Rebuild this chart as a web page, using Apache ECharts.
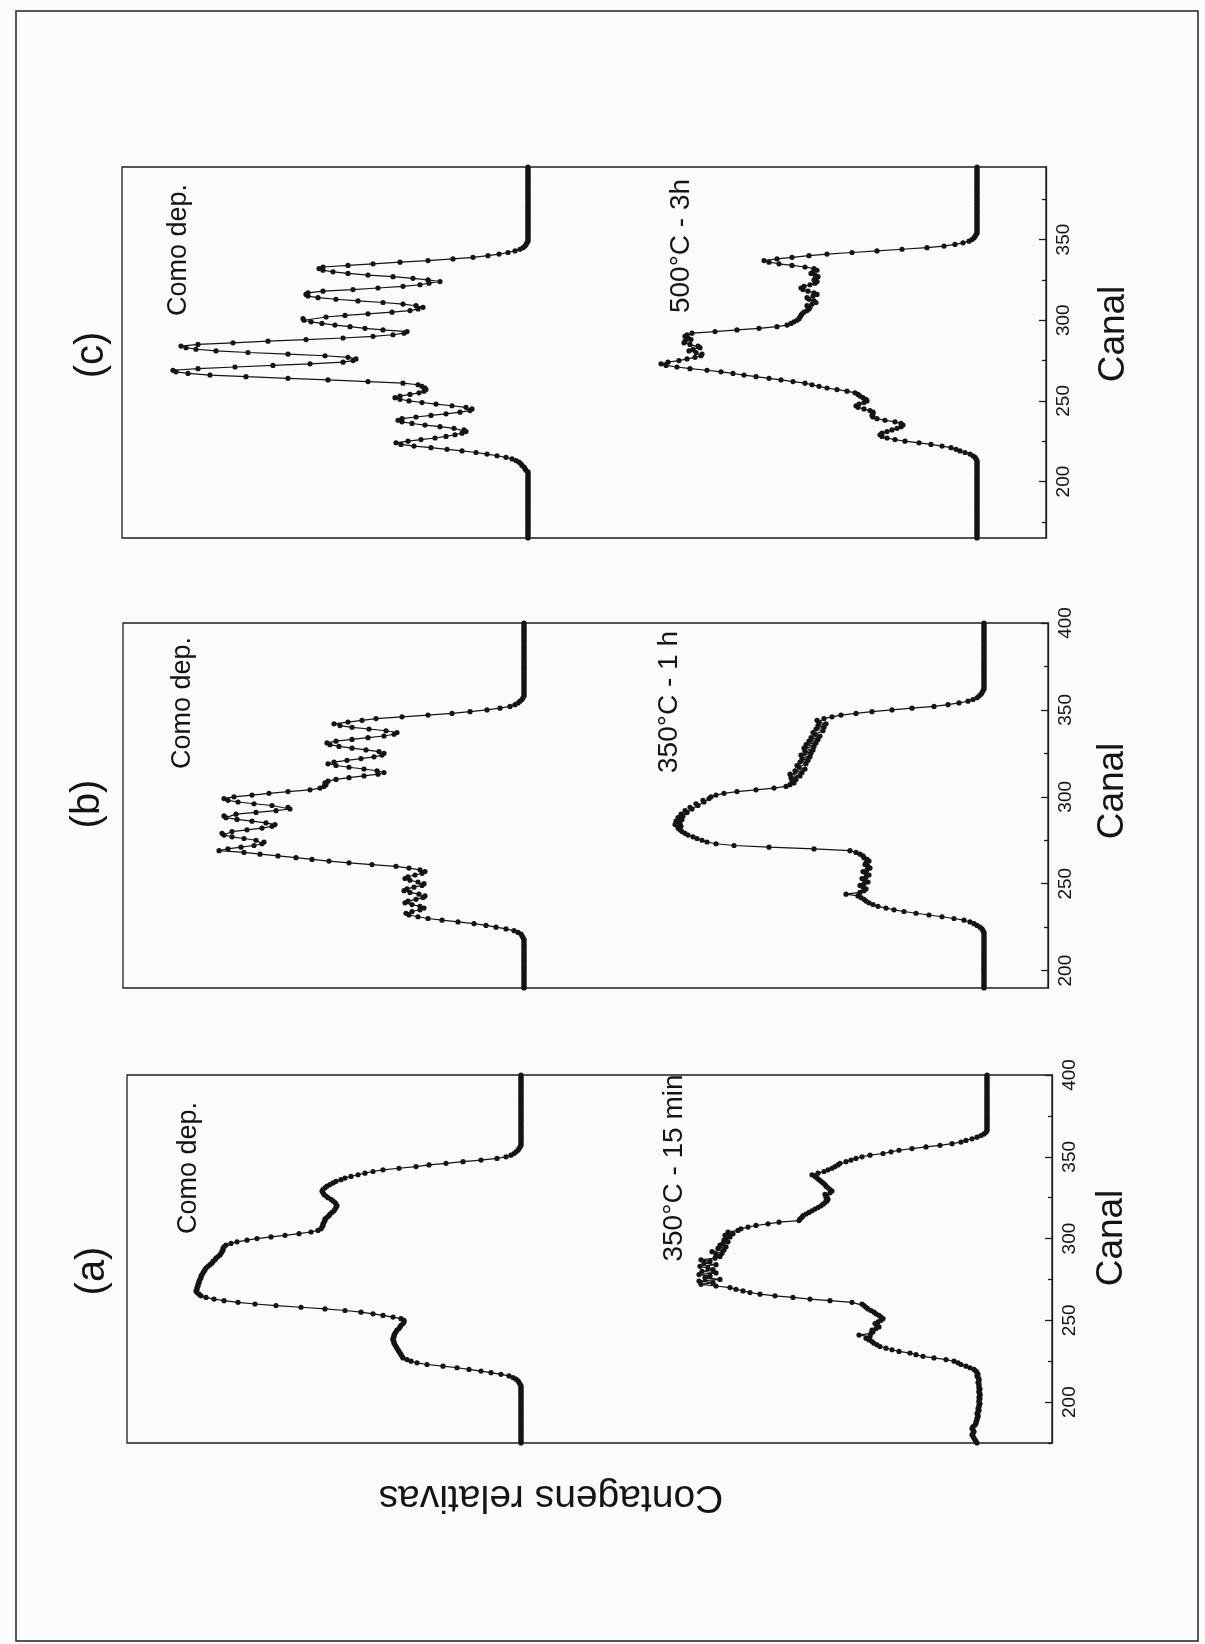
<!DOCTYPE html>
<html>
<head>
<meta charset="utf-8">
<script src="https://cdn.jsdelivr.net/npm/echarts@6.0.0/dist/echarts.min.js"></script>
<style>
html,body{margin:0;padding:0;background:#fbfbfb;}
#chart{width:1205px;height:1644px;}
</style>
</head>
<body>
<div id="chart"></div>
<script>
// ---------------- DATA (relative counts per channel) ----------------
// Canal axis tick values
const canalMajorTicks = [200, 250, 300, 350, 400];
const canalMinorTicks = [175, 225, 275, 325, 375];

// First channel of each spectrum (one value per channel afterwards)
const canalStartA = 175;
const canalStartB = 190;
const canalStartC = 165;

// Vertical stacking offsets of the two spectra in each panel (counts units)
const stackOffsetA = [531, 74];
const stackOffsetB = [524, 64];
const stackOffsetC = [518, 69];

// Panel labels / texts
const panelLetters = ['(a)', '(b)', '(c)'];
const spectrumNamesA = ['Como dep.', '350°C - 15 min'];
const spectrumNamesB = ['Como dep.', '350°C - 1 h'];
const spectrumNamesC = ['Como dep.', '500°C - 3h'];
const xAxisTitle = 'Canal';
const yAxisTitle = 'Contagens relativas';

// (a) Como dep.  channels 175..400
const countsA_asDep = [
 0,0,0,0,0,
 0,0,0,0,0,0,0,0,0,0,
 0,0,0,0,0,0,0,0,0,0,
 0,0,0,0,0,0,0,0,0,0,
 0,1,2,3,5,8,12,20,30,40,
 52,64,78,94,104,110,114,118,119,120,
 121,122,123,124,125,126,127,127,128,128,
 127,127,126,125,124,122,121,120,118,117,
 117,120,128,138,148,160,176,196,220,245,
 266,283,297,307,315,320,322,324,325,324,
 324,323,323,322,322,321,320,320,319,318,
 317,316,315,313,311,309,308,306,305,303,
 301,300,299,298,298,297,295,290,284,274,
 264,250,236,222,210,203,200,199,198,198,
 197,196,196,194,192,191,189,187,186,185,
 184,185,186,188,190,193,195,197,198,199,
 198,196,194,191,188,185,180,176,170,163,
 156,148,138,122,105,92,75,58,40,24,
 15,10,7,5,3,2,1,0,0,0,
 0,0,0,0,0,0,0,0,0,0,
 0,0,0,0,0,0,0,0,0,0,
 0,0,0,0,0,0,0,0,0,0,
 0,0,0,0,0,0,0,0,0,0,
 0
];
// (a) 350°C - 15 min  channels 175..400
const countsA_350C15min = [
 1,2,3,4,5,
 6,5,4,5,6,5,3,2,2,1,
 1,0,0,1,0,-1,0,-1,-1,-2,
 -1,-1,-2,-1,-2,-2,-1,-1,-2,-1,
 -1,-1,0,-1,-1,0,1,0,1,2,
 4,8,12,17,20,24,32,44,55,62,
 68,79,86,92,98,101,104,106,109,112,
 108,119,107,105,106,102,99,101,103,100,
 97,95,97,99,102,104,107,110,112,114,
 116,126,148,168,185,203,218,228,235,242,
 248,262,277,265,279,258,273,268,279,262,
 276,265,270,278,262,274,268,277,263,258,
 262,256,266,254,260,252,258,255,250,254,
 252,248,253,245,250,240,237,230,222,210,
 199,179,178,176,175,172,169,166,163,160,
 157,155,153,151,150,152,151,153,148,146,
 148,150,152,153,155,157,159,161,163,166,
 160,154,150,146,143,140,138,132,127,122,
 116,108,95,87,79,66,52,38,26,17,
 12,6,1,-3,-6,-8,-9,-9,-9,-9,
 -9,-9,-9,-9,-9,-9,-9,-9,-9,-9,
 -9,-9,-9,-9,-9,-9,-9,-9,-9,-9,
 -9,-9,-9,-9,-9,-9,-9,-9,-9,-9,
 -9
];

// (b) Como dep.  channels 190..400
const countsB_asDep = [
 0,0,0,0,0,0,0,0,0,0,
 0,0,0,0,0,0,0,0,0,0,
 0,0,0,0,0,0,0,0,0,1,
 2,3,6,10,18,28,38,50,66,82,
 96,106,115,118,112,104,100,104,112,119,
 116,108,101,99,105,114,120,117,110,102,
 100,106,114,119,116,109,102,99,104,115,
 128,152,175,195,212,228,246,264,280,305,
 296,283,270,262,260,268,280,292,300,302,
 292,277,262,252,249,258,272,287,298,300,
 288,268,248,234,236,252,270,286,296,300,
 290,272,255,236,214,204,200,198,199,196,
 188,175,160,146,140,147,160,175,188,196,
 190,177,163,150,142,140,145,158,172,185,
 194,197,188,172,156,140,130,127,138,155,
 172,184,190,176,162,148,122,96,72,54,
 37,24,14,9,6,4,2,1,0,0,
 0,0,0,0,0,0,0,0,0,0,
 0,0,0,0,0,0,0,0,0,0,
 0,0,0,0,0,0,0,0,0,0,
 0,0,0,0,0,0,0,0,0,0,
 0
];
// (b) 350°C - 1 h  channels 190..400
const countsB_350C1h = [
 0,0,0,0,0,0,0,0,0,0,
 0,0,0,0,0,0,0,0,0,0,
 0,0,0,0,0,0,0,0,0,0,
 0,0,0,1,2,4,7,10,14,20,
 30,42,55,68,80,90,98,106,111,115,
 118,120,123,126,138,124,120,118,121,124,
 120,116,119,122,118,115,118,121,117,114,
 116,119,118,115,117,120,121,124,128,134,
 170,215,250,268,277,282,287,291,296,299,
 302,304,306,303,309,304,308,302,306,301,
 303,297,299,292,294,286,288,280,281,275,
 273,268,260,247,228,210,198,194,190,192,
 188,193,184,194,182,189,179,185,187,178,
 184,176,182,174,183,173,179,171,180,170,
 178,168,175,166,173,164,169,171,161,168,
 160,166,158,165,167,160,152,143,128,112,
 92,72,50,36,25,16,11,7,5,3,
 2,1,0,0,0,0,0,0,0,0,
 0,0,0,0,0,0,0,0,0,0,
 0,0,0,0,0,0,0,0,0,0,
 0,0,0,0,0,0,0,0,0,0,
 0
];

// (c) Como dep.  channels 165..395
const countsC_asDep = [
 0,0,0,0,0,
 0,0,0,0,0,0,0,0,0,0,
 0,0,0,0,0,0,0,0,0,0,
 0,0,0,0,0,0,0,0,0,0,
 0,0,0,0,0,0,0,2,3,4,
 6,7,9,12,16,22,31,41,52,66,
 81,97,114,127,132,120,107,93,82,73,
 66,62,64,74,88,103,116,126,130,126,
 112,97,82,68,58,56,62,76,92,106,
 119,128,133,128,118,109,104,102,103,106,
 110,125,160,200,240,282,318,340,352,355,
 330,293,255,218,185,175,172,180,203,240,
 280,312,332,342,347,330,295,260,222,185,
 155,135,124,121,145,163,178,193,206,217,
 224,225,202,183,160,136,118,110,105,112,
 125,145,170,192,210,220,222,220,205,175,
 150,125,108,99,88,100,115,135,160,180,
 195,205,209,205,180,155,128,100,75,55,
 40,29,20,13,8,5,3,2,1,0,
 0,0,0,0,0,0,0,0,0,0,
 0,0,0,0,0,0,0,0,0,0,
 0,0,0,0,0,0,0,0,0,0,
 0,0,0,0,0,0,0,0,0,0,
 0,0,0,0,0,0
];
// (c) 500°C - 3h  channels 165..395
const countsC_500C3h = [
 0,0,0,0,0,
 0,0,0,0,0,0,0,0,0,0,
 0,0,0,0,0,0,0,0,0,0,
 0,0,0,0,0,0,0,0,0,0,
 0,0,0,0,0,0,0,0,0,0,
 0,0,0,0,1,2,4,7,12,17,
 21,26,35,46,58,72,82,90,95,97,
 95,90,85,80,76,74,76,82,92,100,
 104,105,104,104,107,113,119,121,118,113,
 110,111,114,117,119,122,130,140,150,158,
 165,172,184,196,208,221,233,244,256,270,
 287,300,311,316,309,298,290,282,276,275,
 281,288,284,277,279,287,293,292,286,289,
 292,290,285,262,240,218,200,190,186,183,
 180,178,177,176,175,173,170,168,167,170,
 165,161,163,168,170,164,160,163,169,174,
 176,173,167,162,160,163,161,159,162,166,
 164,160,163,172,185,198,208,213,200,185,
 168,150,125,100,75,50,33,22,14,8,
 5,3,2,1,0,0,0,0,0,0,
 0,0,0,0,0,0,0,0,0,0,
 0,0,0,0,0,0,0,0,0,0,
 0,0,0,0,0,0,0,0,0,0,
 0,0,0,0,0,0
];

// ---------------- LAYOUT / STYLE ----------------
const FONT = '"Liberation Sans", Arial, Helvetica, sans-serif';
const INK = '#141414';

const panels = [
  { letter: panelLetters[0], names: spectrumNamesA, start: canalStartA, series: [countsA_asDep, countsA_350C15min], offs: stackOffsetA,
    grid: { left: 127, top: 1075, width: 925, height: 368 }, min: 175, max: 400,
    letterPos: [93, 1271], namePos: [[189, 1168], [674, 1168]], canalPos: [1112, 1238] },
  { letter: panelLetters[1], names: spectrumNamesB, start: canalStartB, series: [countsB_asDep, countsB_350C1h], offs: stackOffsetB,
    grid: { left: 123, top: 623, width: 925, height: 365 }, min: 190, max: 400,
    letterPos: [88, 804], namePos: [[183, 703], [669, 702]], canalPos: [1113, 791] },
  { letter: panelLetters[2], names: spectrumNamesC, start: canalStartC, series: [countsC_asDep, countsC_500C3h], offs: stackOffsetC,
    grid: { left: 122, top: 167, width: 924, height: 371 }, min: 165, max: 395,
    letterPos: [92, 355], namePos: [[179, 250], [681, 246]], canalPos: [1114, 334] }
];

function toPoints(start, counts, offset) {
  return counts.map((v, i) => [v + offset, start + i]);
}

const grids = [], xAxes = [], yAxes = [], series = [], graphics = [];

graphics.push({ type: 'rect', silent: true, shape: { x: 16, y: 11, width: 1182, height: 1630 },
  style: { fill: 'none', stroke: '#222', lineWidth: 1.5 } });

function rotText(text, pos, size, rot) {
  return { type: 'text', x: pos[0], y: pos[1], rotation: rot, silent: true,
    style: { text: text, fontSize: size, fontFamily: FONT, fill: INK, align: 'center', verticalAlign: 'middle' } };
}

panels.forEach((p, gi) => {
  grids.push(Object.assign({ show: true, borderColor: '#1e1e1e', borderWidth: 1.3, backgroundColor: 'transparent' }, p.grid));
  xAxes.push({ type: 'value', gridIndex: gi, inverse: true, min: 0, max: p.grid.width, show: false });
  const majors = canalMajorTicks.filter(v => v >= p.min && v <= p.max);
  const minors = canalMinorTicks.filter(v => v >= p.min && v <= p.max);
  yAxes.push({
    type: 'value', gridIndex: gi, position: 'right', min: p.min, max: p.max,
    axisLine: { show: true, lineStyle: { color: '#1e1e1e', width: 1.3 } },
    axisTick: { show: true, inside: true, length: 7, customValues: majors, lineStyle: { color: '#1e1e1e', width: 1.3 } },
    axisLabel: { show: true, rotate: 90, margin: 8, fontSize: 19, fontFamily: FONT, color: INK,
      customValues: majors, showMinLabel: true, showMaxLabel: true, hideOverlap: false },
    splitLine: { show: false }
  });
  yAxes.push({
    type: 'value', gridIndex: gi, position: 'right', min: p.min, max: p.max,
    axisLine: { show: false },
    axisTick: { show: true, inside: true, length: 4, customValues: minors, lineStyle: { color: '#1e1e1e', width: 1.3 } },
    axisLabel: { show: false }, splitLine: { show: false }
  });
  p.series.forEach((counts, si) => {
    series.push({
      type: 'line', name: p.names[si], xAxisIndex: gi, yAxisIndex: gi * 2,
      data: toPoints(p.start, counts, p.offs[si]),
      symbol: 'circle', symbolSize: 5.2, showSymbol: true, showAllSymbol: true,
      itemStyle: { color: INK }, lineStyle: { color: INK, width: 1.2 },
      animation: false, silent: true
    });
  });
  graphics.push(rotText(p.letter, p.letterPos, 40, Math.PI / 2));
  graphics.push(rotText(p.names[0], p.namePos[0], 27, Math.PI / 2));
  graphics.push(rotText(p.names[1], p.namePos[1], 28, Math.PI / 2));
  graphics.push(rotText(xAxisTitle, p.canalPos, 37, Math.PI / 2));
});

graphics.push(rotText(yAxisTitle, [551, 1497], 39, Math.PI));

const chart = echarts.init(document.getElementById('chart'), null, { renderer: 'canvas' });
chart.setOption({
  backgroundColor: '#fbfbfb',
  animation: false,
  grid: grids,
  xAxis: xAxes,
  yAxis: yAxes,
  series: series,
  graphic: graphics
});
</script>
</body>
</html>
